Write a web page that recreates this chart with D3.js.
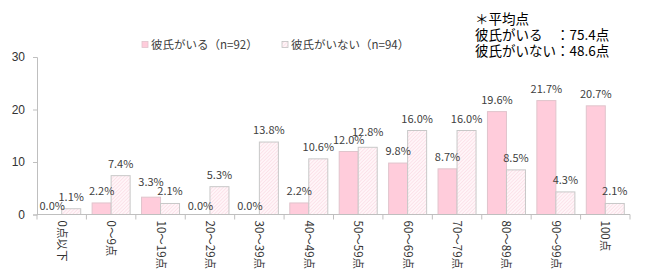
<!DOCTYPE html>
<html lang="ja">
<head>
<meta charset="UTF-8">
<script src="https://d3js.org/d3.v7.min.js"></script>
<style>
    body { margin: 0; background: #fff; font-family: "Noto Sans CJK JP", "Noto Sans", sans-serif; }
    .tick text { font-size: 12px; fill: #333; }
    .label { font-size: 11px; fill: #404040; }
</style>
</head>
<body>
<div id="chart"></div>
<script>
    const categories = ["0点以下", "0～9点", "10～19点", "20～29点", "30～39点", "40～49点",
        "50～59点", "60～69点", "70～79点", "80～89点", "90～99点", "100点"];
    const seriesNames = ["彼氏がいる（n=92）", "彼氏がいない（n=94）"];
    const withBf = [0.0, 2.2, 3.3, 0.0, 0.0, 2.2, 12.0, 9.8, 8.7, 19.6, 21.7, 20.7];
    const withoutBf = [1.1, 7.4, 2.1, 5.3, 13.8, 10.6, 12.8, 16.0, 16.0, 8.5, 4.3, 2.1];
    const yTicks = [0, 10, 20, 30];
    const noteLines = ["＊平均点", "彼氏がいる　：75.4点", "彼氏がいない：48.6点"];

    const width = 650, height = 279;
    const margin = {top: 57, right: 20, bottom: 65, left: 37};

    const svg = d3.select("#chart").append("svg")
        .attr("width", width).attr("height", height);

    // light hatched fill for the second series
    const pat = svg.append("defs").append("pattern")
        .attr("id", "hatch").attr("patternUnits", "userSpaceOnUse")
        .attr("width", 2.5).attr("height", 2.5)
        .attr("patternTransform", "rotate(45)");
    pat.append("rect").attr("width", 2.5).attr("height", 2.5).attr("fill", "#fff5f8");
    pat.append("line").attr("x1", 0).attr("y1", 0).attr("x2", 0).attr("y2", 2.5)
        .attr("stroke", "#f9d3de").attr("stroke-width", 1);

    const x = d3.scaleBand().domain(categories)
        .range([margin.left, width - margin.right]).padding(0);
    const x1 = d3.scaleBand().domain([0, 1]).range([0, x.bandwidth()])
        .paddingInner(0).paddingOuter(0.3);
    const y = d3.scaleLinear().domain([0, 30]).range([height - margin.bottom + 0.5, margin.top]);

    const fills = ["#ffccdb", "url(#hatch)"];

    // y axis
    const yAxis = svg.append("g")
        .attr("transform", `translate(${margin.left},0)`)
        .call(d3.axisLeft(y).tickValues(yTicks).tickSize(4).tickPadding(8));
    yAxis.selectAll("line, path").attr("stroke", "#bfbfbf");

    // bars
    const rows = categories.map((c, i) => ({c, v: [withBf[i], withoutBf[i]]}));
    const g = svg.append("g");
    rows.forEach(r => {
        r.v.forEach((v, s) => {
            g.append("rect")
                .attr("x", x(r.c) + x1(s))
                .attr("y", y(v))
                .attr("width", x1.bandwidth())
                .attr("height", y(0) - y(v))
                .attr("fill", fills[s])
                .attr("stroke", s === 0 ? "#e0c4cc" : "#c8c8c8")
                .attr("stroke-width", 1);
        });
    });

    // x axis
    const xAxisY = y(0);
    svg.append("line")
        .attr("x1", margin.left).attr("x2", width - margin.right)
        .attr("y1", xAxisY).attr("y2", xAxisY)
        .attr("stroke", "#bfbfbf");
    const bounds = categories.map(c => x(c)).concat([x.range()[1]]);
    svg.selectAll(".xtick").data(bounds).enter().append("line")
        .attr("x1", d => d).attr("x2", d => d)
        .attr("y1", xAxisY).attr("y2", xAxisY + 5)
        .attr("stroke", "#bfbfbf");
    svg.selectAll(".xlab").data(categories).enter().append("text")
        .attr("transform", d => `translate(${x(d) + x.bandwidth() / 2 - 4},${xAxisY + 6}) rotate(90)`)
        .attr("text-anchor", "start")
        .attr("font-size", 11.5).attr("fill", "#333")
        .text(d => d);

    // value labels
    rows.forEach(r => {
        const close = Math.abs(r.v[0] - r.v[1]) < 1.5 && r.v[0] > 0;
        r.v.forEach((v, s) => {
            let dy = v === 0 ? -4.5 : -8;
            if (close && v === Math.max(...r.v)) dy -= 3;
            g.append("text").attr("class", "label")
                .attr("x", x(r.c) + x1(s) + x1.bandwidth() / 2)
                .attr("y", y(v) + dy)
                .attr("text-anchor", "middle")
                .text(v.toFixed(1) + "%");
        });
    });

    // legend
    const legendX = [142, 282];
    seriesNames.forEach((n, i) => {
        svg.append("rect")
            .attr("x", legendX[i]).attr("y", 41.5)
            .attr("width", 6).attr("height", 6)
            .attr("fill", fills[i])
            .attr("stroke", i === 0 ? "#e0c4cc" : "#c0c0c0").attr("stroke-width", 0.8);
        svg.append("text")
            .attr("x", legendX[i] + 9).attr("y", 48.5)
            .attr("font-size", 11.5).attr("fill", "#404040")
            .text(n);
    });

    // note
    noteLines.forEach((t, i) => {
        svg.append("text")
            .attr("x", 475).attr("y", 24 + i * 16)
            .attr("font-size", 13.5).attr("fill", "#000")
            .text(t);
    });
</script>
</body>
</html>
